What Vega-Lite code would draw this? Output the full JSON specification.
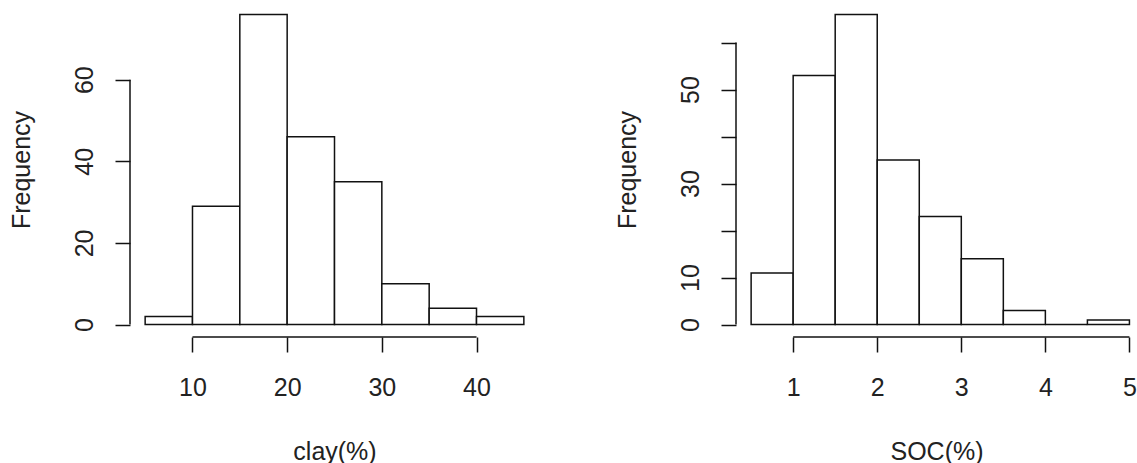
{
  "$schema": "https://vega.github.io/schema/vega-lite/v6.json",
  "description": "Histograms of clay(%) and SOC(%)",
  "background": "white",
  "padding": {"left": 9, "top": 2, "right": 0, "bottom": 0},
  "config": {
    "view": {"stroke": null},
    "font": "Liberation Sans",
    "axis": {
      "domain": false,
      "grid": false,
      "tickSize": 15,
      "tickWidth": 1.5,
      "tickColor": "#111",
      "labelFont": "Liberation Sans",
      "labelFontSize": 25,
      "labelColor": "#222",
      "titleFont": "Liberation Sans",
      "titleFontSize": 25,
      "titleFontWeight": "normal",
      "titleColor": "#222"
    },
    "axisX": {"labelPadding": 23, "titlePadding": 39, "format": "d"},
    "axisY": {
      "labelAngle": -90,
      "labelAlign": "center",
      "labelBaseline": "bottom",
      "labelPadding": 18,
      "titlePadding": 38
    }
  },
  "datasets": {
    "clay": [
      {"start": 5, "end": 10, "count": 2},
      {"start": 10, "end": 15, "count": 29},
      {"start": 15, "end": 20, "count": 76},
      {"start": 20, "end": 25, "count": 46},
      {"start": 25, "end": 30, "count": 35},
      {"start": 30, "end": 35, "count": 10},
      {"start": 35, "end": 40, "count": 4},
      {"start": 40, "end": 45, "count": 2}
    ],
    "soc": [
      {"start": 0.5, "end": 1, "count": 11},
      {"start": 1, "end": 1.5, "count": 53},
      {"start": 1.5, "end": 2, "count": 66},
      {"start": 2, "end": 2.5, "count": 35},
      {"start": 2.5, "end": 3, "count": 23},
      {"start": 3, "end": 3.5, "count": 14},
      {"start": 3.5, "end": 4, "count": 3},
      {"start": 4, "end": 4.5, "count": 0},
      {"start": 4.5, "end": 5, "count": 1}
    ]
  },
  "spacing": 197,
  "bounds": "flush",
  "hconcat": [
    {
      "width": 409,
      "height": 335,
      "layer": [
        {
          "data": {"name": "clay"},
          "mark": {"type": "rect", "fill": "white", "stroke": "#111", "strokeWidth": 1.5},
          "encoding": {
            "x": {
              "field": "start", "type": "quantitative", "title": "clay(%)",
              "scale": {"domain": [3.4, 46.6], "nice": false, "zero": false},
              "axis": {"values": [10, 20, 30, 40]}
            },
            "x2": {"field": "end"},
            "y": {
              "field": "count", "type": "quantitative", "title": "Frequency",
              "scale": {"domain": [-3.04, 79.04], "nice": false, "zero": false},
              "axis": {"values": [0, 20, 40, 60]}
            },
            "y2": {"datum": 0}
          }
        },
        {
          "data": {"values": [{}]},
          "mark": {"type": "rule", "stroke": "#111", "strokeWidth": 1.5},
          "encoding": {
            "x": {"datum": 10, "type": "quantitative", "title": "clay(%)"},
            "x2": {"datum": 40},
            "y": {"datum": -3.04, "type": "quantitative", "title": "Frequency"}
          }
        },
        {
          "data": {"values": [{}]},
          "mark": {"type": "rule", "stroke": "#111", "strokeWidth": 1.5},
          "encoding": {
            "x": {"datum": 3.4, "type": "quantitative", "title": "clay(%)"},
            "y": {"datum": 0, "type": "quantitative", "title": "Frequency"},
            "y2": {"datum": 60}
          }
        }
      ]
    },
    {
      "width": 401,
      "height": 335,
      "layer": [
        {
          "data": {"name": "soc"},
          "mark": {"type": "rect", "fill": "white", "stroke": "#111", "strokeWidth": 1.5},
          "encoding": {
            "x": {
              "field": "start", "type": "quantitative", "title": "SOC(%)",
              "scale": {"domain": [0.32, 5.09], "nice": false, "zero": false},
              "axis": {"values": [1, 2, 3, 4, 5], "format": "d"}
            },
            "x2": {"field": "end"},
            "y": {
              "field": "count", "type": "quantitative", "title": "Frequency",
              "scale": {"domain": [-2.64, 68.64], "nice": false, "zero": false},
              "axis": {
                "values": [0, 10, 20, 30, 40, 50, 60],
                "labelExpr": "indexof([0, 10, 30, 50], datum.value) >= 0 ? datum.label : ''"
              }
            },
            "y2": {"datum": 0}
          }
        },
        {
          "data": {"values": [{}]},
          "mark": {"type": "rule", "stroke": "#111", "strokeWidth": 1.5},
          "encoding": {
            "x": {"datum": 1, "type": "quantitative", "title": "SOC(%)"},
            "x2": {"datum": 5},
            "y": {"datum": -2.64, "type": "quantitative", "title": "Frequency"}
          }
        },
        {
          "data": {"values": [{}]},
          "mark": {"type": "rule", "stroke": "#111", "strokeWidth": 1.5},
          "encoding": {
            "x": {"datum": 0.32, "type": "quantitative", "title": "SOC(%)"},
            "y": {"datum": 0, "type": "quantitative", "title": "Frequency"},
            "y2": {"datum": 60}
          }
        }
      ]
    }
  ]
}
